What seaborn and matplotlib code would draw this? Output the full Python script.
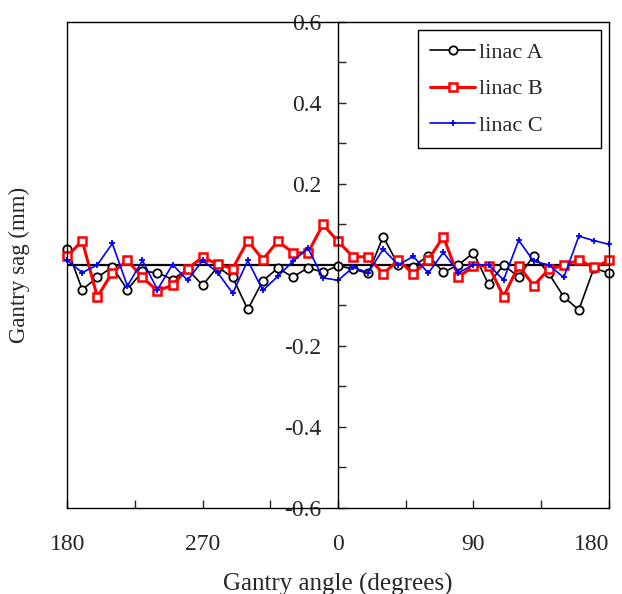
import numpy as np
import pandas as pd
import matplotlib
matplotlib.use("Agg")
import matplotlib.pyplot as plt
import seaborn as sns

# gantry positions: 180 -> 270 -> 0 -> 90 -> 180, plotted as -180..180
angle_pos = np.arange(-180, 181, 10)

linac_a = [0.040, -0.061, -0.031, -0.005, -0.061, -0.016, -0.019, -0.036, -0.011, -0.050,
           -0.005, -0.031, -0.110, -0.039, -0.008, -0.030, -0.007, -0.018, -0.002, -0.010,
           -0.021, 0.070, 0.000, -0.004, 0.023, -0.018, 0.000, 0.030, -0.048, 0.000,
           -0.030, 0.023, -0.021, -0.079, -0.111, -0.008, -0.020]
linac_b = [0.021, 0.060, -0.079, -0.019, 0.011, -0.031, -0.064, -0.050, -0.009, 0.019,
           0.002, -0.009, 0.060, 0.013, 0.059, 0.030, 0.030, 0.100, 0.058, 0.020,
           0.020, -0.022, 0.012, -0.022, 0.013, 0.070, -0.030, -0.003, -0.002, -0.078,
           -0.002, -0.051, -0.011, -0.001, 0.012, -0.006, 0.011]
linac_c = [0.011, -0.019, 0.000, 0.053, -0.052, 0.011, -0.061, 0.001, -0.038, 0.011,
           -0.019, -0.070, 0.011, -0.063, -0.028, 0.009, 0.041, -0.032, -0.038, -0.006,
           -0.019, 0.039, 0.000, 0.021, -0.020, 0.031, -0.019, 0.000, 0.000, -0.037,
           0.061, 0.009, 0.000, -0.031, 0.071, 0.060, 0.051]

xtick_pos = [-180, -135, -90, -45, 0, 45, 90, 135, 180]
xtick_labels = ['180', '', '270', '', '0', '', '90', '', '180']
ytick_pos = [-0.6, -0.4, -0.2, 0.0, 0.2, 0.4, 0.6]
ytick_labels = ['-0.6', '-0.4', '-0.2', '', '0.2', '0.4', '0.6']

df = pd.DataFrame({'angle': angle_pos, 'linac A': linac_a,
                   'linac B': linac_b, 'linac C': linac_c})

sns.set_style('white')
plt.rcParams['font.family'] = ['Liberation Serif', 'DejaVu Serif']

fig = plt.figure(figsize=(6.22, 5.94), dpi=100)
ax = fig.add_axes([0.108, 0.145, 0.871, 0.818])

# zero line behind the data
ax.axhline(0, color='black', lw=1.6, zorder=1.5)

sns.lineplot(data=df, x='angle', y='linac A', ax=ax, color='black', lw=1.2,
             marker='o', markersize=6, markerfacecolor='white',
             markeredgecolor='black', markeredgewidth=1.3, label='linac A', clip_on=False)
sns.lineplot(data=df, x='angle', y='linac B', ax=ax, color='#ff0000', lw=2.2,
             marker='s', markersize=5.5, markerfacecolor='white',
             markeredgecolor='#ff0000', markeredgewidth=1.8, label='linac B', clip_on=False)
sns.lineplot(data=df, x='angle', y='linac C', ax=ax, color='#0000ff', lw=1.2,
             marker='+', markersize=5, markeredgecolor='#0000ff',
             markeredgewidth=1.3, label='linac C', clip_on=False)

ax.set_xlim(-180, 180)
ax.set_ylim(-0.6, 0.6)

# y axis sits at 0 degrees, box closed with the other spines
ax.spines['left'].set_position(('data', 0))
ax.axvline(-180, color='black', lw=1.0, clip_on=False)
for s in ['left', 'right', 'top', 'bottom']:
    ax.spines[s].set_color('black')
    ax.spines[s].set_linewidth(1.0)

ax.set_xticks(xtick_pos)
ax.set_xticklabels(xtick_labels)
ax.set_yticks(ytick_pos)
ax.set_yticklabels(ytick_labels)
ax.set_yticks(np.arange(-0.5, 0.6, 0.2), minor=True)
ax.tick_params(axis='x', direction='in', length=6, width=1, pad=19, labelsize=17,
               bottom=True, top=False)
ax.tick_params(axis='y', which='both', direction='in', length=6, width=1, pad=12,
               labelsize=17, left=True, right=False)
ax.get_xticklabels()[-1].set_horizontalalignment('right')

ax.set_xlabel('Gantry angle (degrees)', fontsize=18, labelpad=13)
ax.set_ylabel('Gantry sag (mm)', fontsize=16.5)
ax.yaxis.set_label_coords(-0.068, 0.5)

leg = ax.legend(loc='upper right', bbox_to_anchor=(0.648, 0.5, 0.337, 0.4835),
                mode='expand', alignment='center', fontsize=16, frameon=True,
                fancybox=False, framealpha=1, edgecolor='black', borderaxespad=0.0,
                borderpad=0.55, handlelength=2.0, handletextpad=0.2, labelspacing=0.72)
leg.get_frame().set_linewidth(1.0)

fig.savefig('out.png', dpi=100)
